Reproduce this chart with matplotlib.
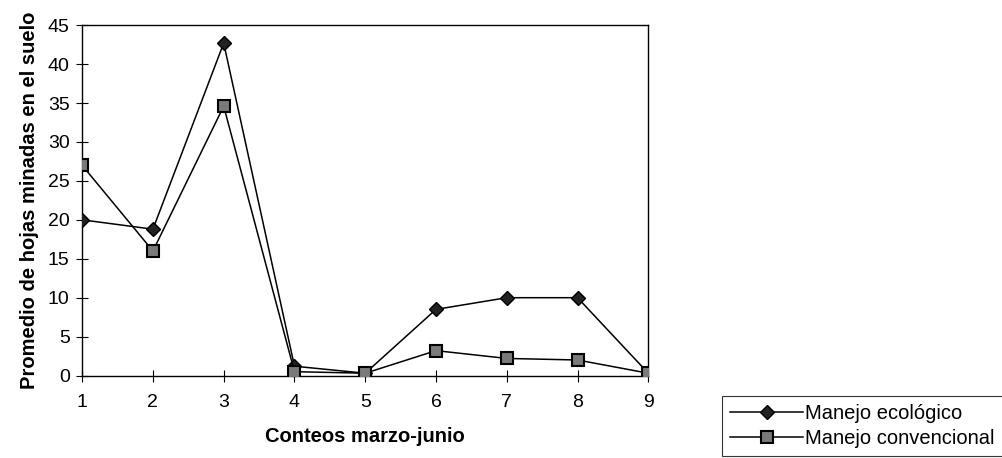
import numpy as np
import matplotlib
matplotlib.use('Agg')
import matplotlib.pyplot as plt

plt.rcParams['font.family'] = ['Liberation Sans', 'DejaVu Sans']

conteos = [1, 2, 3, 4, 5, 6, 7, 8, 9]
ecologico = [20, 18.8, 42.7, 1.2, 0.3, 8.5, 10, 10, 0.3]
convencional = [27, 16, 34.6, 0.5, 0.3, 3.2, 2.2, 2.0, 0.3]
yticks = [0, 5, 10, 15, 20, 25, 30, 35, 40, 45]

fig = plt.figure(figsize=(10.02, 4.58), dpi=100)
ax = fig.add_axes([0.082, 0.18, 0.565, 0.765])

ax.plot(conteos, ecologico, '-', color='black', lw=1.1, marker='D', ms=7,
        mfc='#222222', mec='black', label='Manejo ecológico', zorder=3)
ax.plot(conteos, convencional, '-', color='black', lw=1.1, marker='s', ms=8,
        mfc='#7a7a7a', mec='black', mew=1.5, label='Manejo convencional', zorder=3)

ax.set_xlim(1, 9)
ax.set_ylim(0, 45)
ax.set_xticks(conteos)
ax.set_yticks(yticks)
ax.tick_params(axis='both', direction='inout', length=8, width=0.8,
               labelsize=14, pad=5)
ax.tick_params(axis='x', pad=9)
for s in ax.spines.values():
    s.set_linewidth(1.0)

ax.set_xlabel('Conteos marzo-junio', fontsize=14.5, fontweight='bold', labelpad=12)
ax.set_ylabel('Promedio de hojas minadas en el suelo', fontsize=14.5,
              fontweight='bold', labelpad=6)

leg = fig.legend(loc='lower left', bbox_to_anchor=(0.721, 0.005),
                 fontsize=14.5, frameon=True, fancybox=False,
                 handlelength=3.6, borderpad=0.4, labelspacing=0.3,
                 handletextpad=0.1, borderaxespad=0)
leg.get_frame().set_edgecolor('black')
leg.get_frame().set_linewidth(0.8)

plt.savefig('out.png', dpi=100)
